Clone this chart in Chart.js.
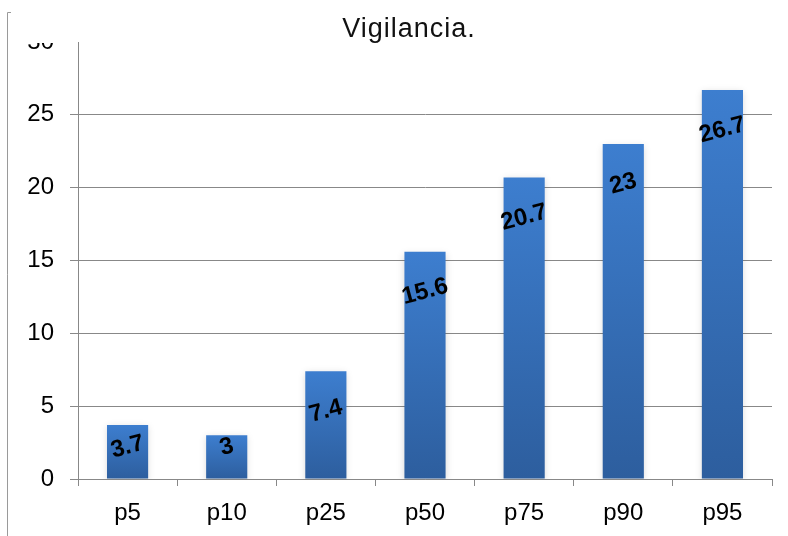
<!DOCTYPE html>
<html>
<head>
<meta charset="utf-8">
<style>
  html, body { margin: 0; padding: 0; background: #fff; }
  #wrap { width: 788px; height: 536px; position: relative; }
</style>
<script src="https://cdn.jsdelivr.net/npm/chart.js@4/dist/chart.umd.min.js"></script>
</head>
<body>
<div id="wrap"><canvas id="c" width="788" height="536"></canvas></div>
<script>
const categories = ['p5', 'p10', 'p25', 'p50', 'p75', 'p90', 'p95'];
const values = [3.7, 3, 7.4, 15.6, 20.7, 23, 26.7];
const yTickValues = [0, 5, 10, 15, 20, 25, 30];
const titleText = 'Vigilancia.';

const FONT = '"Liberation Sans", Arial, sans-serif';
const GRID = '#888888';

// per-bar vertical gradient, light at the top, darker at the base
function barGradient(ctx) {
  const chart = ctx.chart;
  const y = chart.scales && chart.scales.y;
  if (!y || ctx.type !== 'data') return '#3a78c6';
  const top = y.getPixelForValue(ctx.raw);
  const base = y.getPixelForValue(0);
  if (!isFinite(top) || !isFinite(base) || top === base) return '#3a78c6';
  const g = chart.ctx.createLinearGradient(0, top, 0, base);
  g.addColorStop(0, '#3d7ecf');
  g.addColorStop(1, '#2d5e9e');
  return g;
}

// soft grey glow behind the bars
const barShadow = {
  id: 'barShadow',
  beforeDatasetsDraw(chart) {
    const c = chart.ctx;
    c.save();
    c.shadowColor = 'rgba(0,0,0,0.16)';
    c.shadowBlur = 7;
    c.shadowOffsetX = 0;
    c.shadowOffsetY = 2;
  },
  afterDatasetsDraw(chart) {
    chart.ctx.restore();
  }
};

// rotated value labels inside the top of each bar
const valueLabels = {
  id: 'valueLabels',
  afterDatasetsDraw(chart) {
    const c = chart.ctx;
    const meta = chart.getDatasetMeta(0);
    const base = chart.scales.y.getPixelForValue(0);
    c.save();
    c.font = 'bold 24px ' + FONT;
    c.fillStyle = '#000';
    c.textAlign = 'center';
    c.textBaseline = 'middle';
    meta.data.forEach((bar, i) => {
      const y = Math.min(bar.y + 40, base - 32);
      c.save();
      c.translate(bar.x, y);
      c.rotate(-15 * Math.PI / 180);
      c.fillText(String(values[i]), 0, 0);
      c.restore();
    });
    c.restore();
  }
};

// outer frame edge, masked top label and the title
const frameAndTitle = {
  id: 'frameAndTitle',
  afterDraw(chart) {
    const c = chart.ctx;
    c.save();
    c.fillStyle = '#fff';
    c.fillRect(12, 0, 64, 43);
    c.strokeStyle = '#9a9a9a';
    c.lineWidth = 1;
    c.beginPath();
    c.moveTo(7.5, 536);
    c.lineTo(7.5, 12.5);
    c.lineTo(11, 12.5);
    c.stroke();
    c.font = '27px ' + FONT;
    c.letterSpacing = '1px';
    c.fillStyle = '#111';
    c.textAlign = 'center';
    c.textBaseline = 'alphabetic';
    c.fillText(titleText, 409, 37);
    c.restore();
  }
};

new Chart(document.getElementById('c'), {
  type: 'bar',
  data: {
    labels: categories,
    datasets: [{
      data: values,
      backgroundColor: barGradient,
      borderWidth: 0,
      barPercentage: 0.415,
      categoryPercentage: 1
    }]
  },
  options: {
    responsive: false,
    animation: false,
    devicePixelRatio: 1,
    layout: { padding: { top: 42, right: 16, left: 0, bottom: 0 } },
    plugins: {
      legend: { display: false },
      title: { display: false },
      tooltip: { enabled: false }
    },
    scales: {
      x: {
        offset: true,
        grid: {
          offset: true,
          drawOnChartArea: false,
          drawTicks: true,
          tickLength: 7,
          color: GRID,
          tickColor: GRID
        },
        border: { display: true, color: GRID, width: 1 },
        ticks: {
          color: '#000',
          font: { family: FONT, size: 24 },
          padding: 13,
          maxRotation: 0
        },
        afterFit(s) { s.height = 57; }
      },
      y: {
        min: 0,
        max: 30,
        afterBuildTicks(s) { s.ticks = yTickValues.map(v => ({ value: v })); },
        grid: {
          color: ctx => (ctx.tick && ctx.tick.value === 30 ? 'rgba(0,0,0,0)' : GRID),
          tickColor: ctx => (ctx.tick && ctx.tick.value === 30 ? 'rgba(0,0,0,0)' : GRID),
          tickLength: 8,
          lineWidth: 1
        },
        border: { display: true, color: GRID, width: 1 },
        ticks: {
          color: '#000',
          font: { family: FONT, size: 24 },
          padding: 16
        },
        afterFit(s) { s.width = 78; }
      }
    }
  },
  plugins: [barShadow, valueLabels, frameAndTitle]
});
</script>
</body>
</html>
